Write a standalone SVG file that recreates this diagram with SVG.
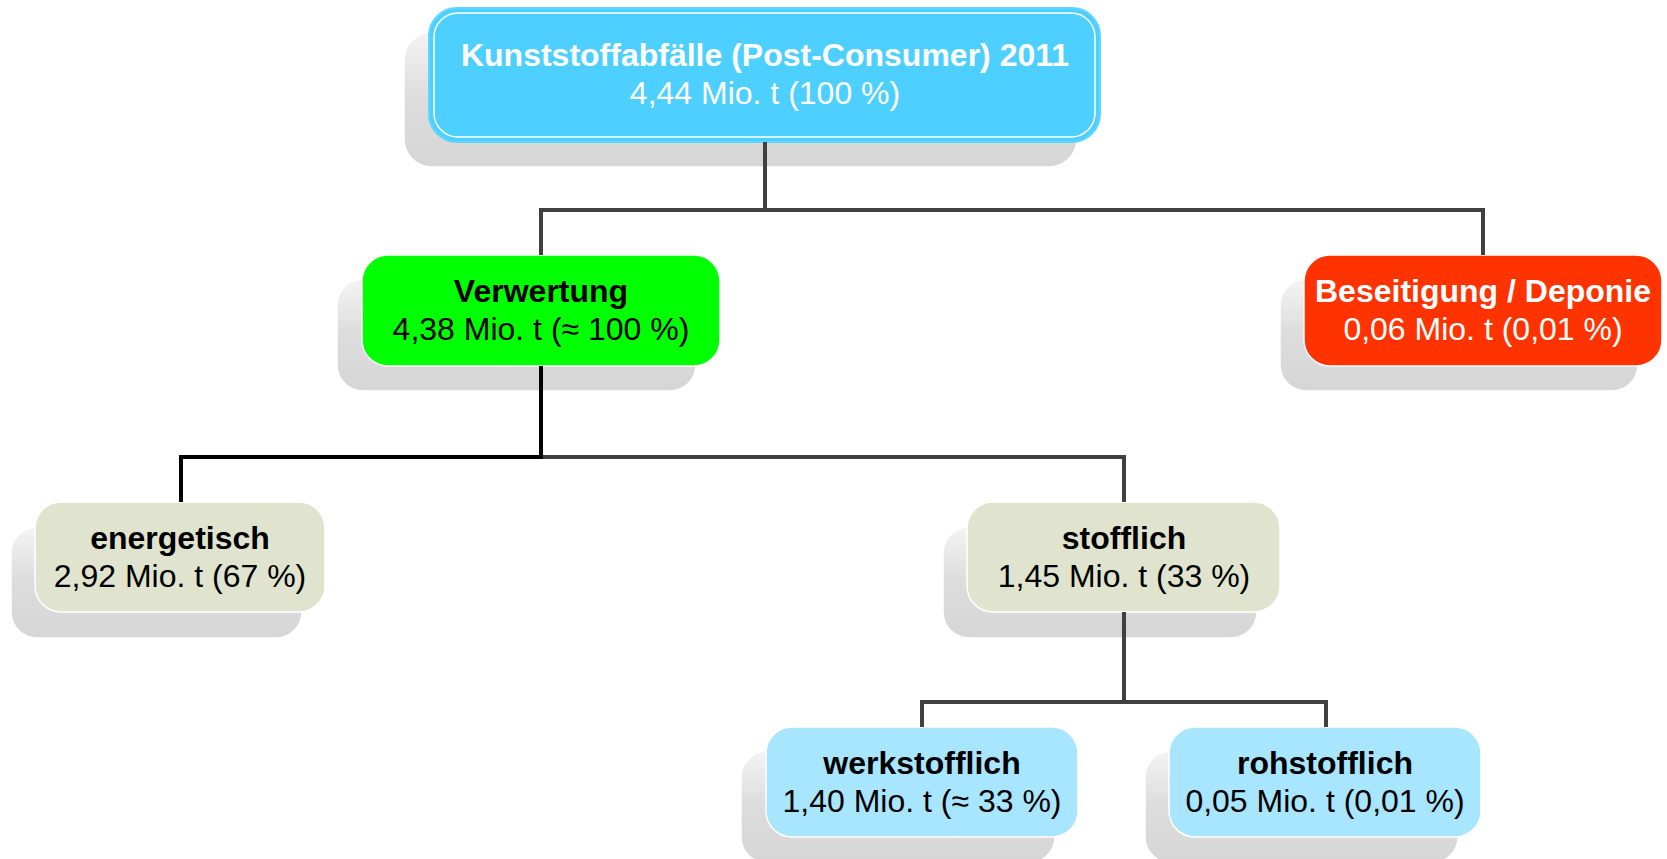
<svg xmlns="http://www.w3.org/2000/svg" width="1667" height="859" viewBox="0 0 1667 859">
  <defs>
    <linearGradient id="shadowGrad" x1="0" y1="0" x2="0" y2="1">
      <stop offset="0" stop-color="#F4F4F4"/>
      <stop offset="0.5" stop-color="#DCDCDC"/>
      <stop offset="1" stop-color="#D6D6D6"/>
    </linearGradient>
  </defs>
  <style>
    .shadow { fill: url(#shadowGrad); stroke: #FFFFFF; stroke-width: 1.5; }
    .front { stroke: #FFFFFF; stroke-width: 1.5; }
    .t { font-family: "Liberation Sans", Arial, sans-serif; font-size: 32px; text-anchor: middle; }
    .b { font-weight: bold; }
    .dark { fill: #000000; }
    .light { fill: #FFFFFF; }
    .conn { fill: none; stroke: #404040; stroke-width: 4; stroke-linejoin: miter; }
    .connB { fill: none; stroke: #000000; stroke-width: 4; stroke-linejoin: miter; }
  </style>

  <g id="node-top">
    <rect class="shadow" x="404" y="32" width="673" height="135" rx="28"/>
    <rect x="429" y="8" width="671" height="134" rx="28" fill="#4DCFFF" stroke="#5FD6FF" stroke-width="2"/>
    <rect x="434" y="13" width="661" height="124" rx="24" fill="none" stroke="#FFFFFF" stroke-width="1.5"/>
    <text class="t b light" x="765" y="66">Kunststoffabfälle (Post-Consumer) 2011</text>
    <text class="t light" x="765" y="104">4,44 Mio. t (100 %)</text>
  </g>

  <g id="node-verwertung">
    <rect class="shadow" x="337" y="279" width="359" height="112" rx="26"/>
    <rect class="front" x="362" y="255" width="358" height="111" rx="26" fill="#00FF00"/>
    <text class="t b dark" x="541" y="302">Verwertung</text>
    <text class="t dark" x="541" y="340">4,38 Mio. t (≈ 100 %)</text>
  </g>

  <g id="node-beseitigung">
    <rect class="shadow" x="1280" y="279" width="358" height="112" rx="26"/>
    <rect class="front" x="1304" y="255" width="358" height="111" rx="26" fill="#FF3300"/>
    <text class="t b light" x="1483" y="302">Beseitigung / Deponie</text>
    <text class="t light" x="1483" y="340">0,06 Mio. t (0,01 %)</text>
  </g>

  <g id="node-energetisch">
    <rect class="shadow" x="11" y="527" width="291" height="111" rx="26"/>
    <rect class="front" x="35" y="502" width="290" height="110" rx="26" fill="#E0E4CE"/>
    <text class="t b dark" x="180" y="549">energetisch</text>
    <text class="t dark" x="180" y="587">2,92 Mio. t (67 %)</text>
  </g>

  <g id="node-stofflich">
    <rect class="shadow" x="943" y="527" width="314" height="111" rx="26"/>
    <rect class="front" x="967" y="502" width="313" height="110" rx="26" fill="#E0E4CE"/>
    <text class="t b dark" x="1124" y="549">stofflich</text>
    <text class="t dark" x="1124" y="587">1,45 Mio. t (33 %)</text>
  </g>

  <g id="node-werkstofflich">
    <rect class="shadow" x="741" y="751" width="314" height="112" rx="26"/>
    <rect class="front" x="766" y="727" width="312" height="110" rx="26" fill="#A8E6FF"/>
    <text class="t b dark" x="922" y="774">werkstofflich</text>
    <text class="t dark" x="922" y="812">1,40 Mio. t (≈ 33 %)</text>
  </g>

  <g id="node-rohstofflich">
    <rect class="shadow" x="1145" y="751" width="313" height="112" rx="26"/>
    <rect class="front" x="1169" y="727" width="312" height="110" rx="26" fill="#A8E6FF"/>
    <text class="t b dark" x="1325" y="774">rohstofflich</text>
    <text class="t dark" x="1325" y="812">0,05 Mio. t (0,01 %)</text>
  </g>

  <g id="connectors">
    <path class="conn" d="M765 142 V210"/>
    <path class="conn" d="M541 255 V210 H1483 V255"/>
    <path class="conn" d="M541 457 H1124 V502"/>
    <path class="connB" d="M541 366 V457 H181 V502"/>
    <path class="conn" d="M1124 612 V702"/>
    <path class="conn" d="M922 727 V702 H1326 V727"/>
  </g>
</svg>
